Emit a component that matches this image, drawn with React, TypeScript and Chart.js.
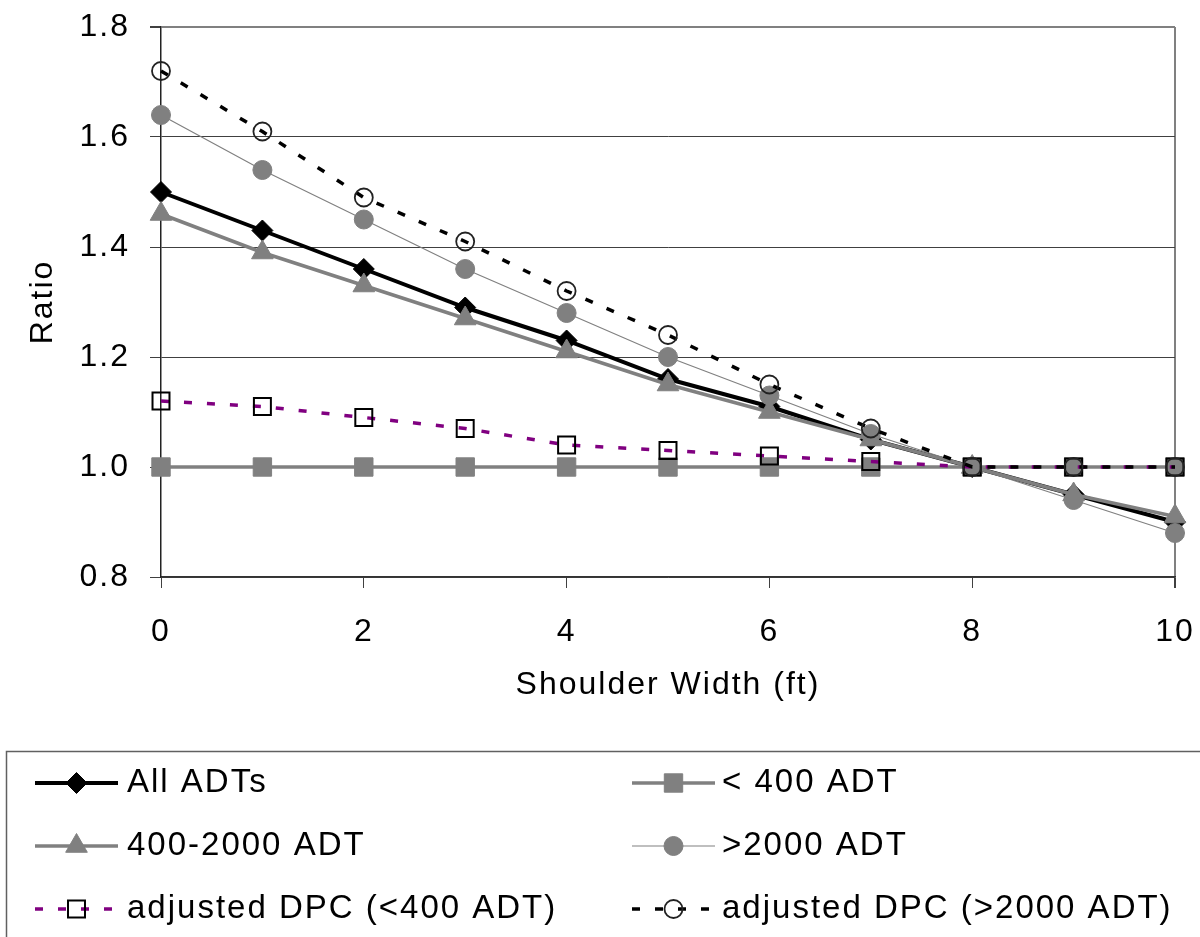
import React, { useEffect, useRef } from 'react';
import { Chart, registerables } from 'chart.js';

Chart.register(...registerables);

// ---- data ----
const shoulderWidth = [0, 1, 2, 3, 4, 5, 6, 7, 8, 9, 10];
const allADTs = [1.5, 1.43, 1.36, 1.29, 1.23, 1.16, 1.11, 1.05, 1.0, 0.95, 0.9];
const below400 = [1.0, 1.0, 1.0, 1.0, 1.0, 1.0, 1.0, 1.0, 1.0, 1.0, 1.0];
const adt400to2000 = [1.46, 1.39, 1.33, 1.27, 1.21, 1.15, 1.1, 1.05, 1.0, 0.95, 0.91];
const above2000 = [1.64, 1.54, 1.45, 1.36, 1.28, 1.2, 1.13, 1.06, 1.0, 0.94, 0.88];
const adjBelow400 = [1.12, 1.11, 1.09, 1.07, 1.04, 1.03, 1.02, 1.01, 1.0, 1.0, 1.0];
const adjAbove2000 = [1.72, 1.61, 1.49, 1.41, 1.32, 1.24, 1.15, 1.07, 1.0, 1.0, 1.0];

const seriesLabels = [
  'All ADTs',
  '< 400 ADT',
  '400-2000 ADT',
  '>2000 ADT',
  'adjusted DPC (<400 ADT)',
  'adjusted DPC (>2000 ADT)',
];
const seriesValues = [allADTs, below400, adt400to2000, above2000, adjBelow400, adjAbove2000];

const xTitle = 'Shoulder Width (ft)';
const yTitle = 'Ratio';

// ---- styles ----
const FONT = '"Liberation Sans", Arial, Helvetica, sans-serif';
const DASH = [8, 15];

type Style = {
  color: string;
  width: number;
  dash: number[];
  pointStyle: 'rectRot' | 'rect' | 'triangle' | 'circle';
  radius: number;
  fill: string;
  stroke: string;
  strokeWidth: number;
};

const styles: Style[] = [
  { color: '#000000', width: 4, dash: [], pointStyle: 'rectRot', radius: 10.5, fill: '#000000', stroke: '#000000', strokeWidth: 1 },
  { color: '#808080', width: 3.5, dash: [], pointStyle: 'rect', radius: 13, fill: '#808080', stroke: '#808080', strokeWidth: 1 },
  { color: '#808080', width: 3.5, dash: [], pointStyle: 'triangle', radius: 12.5, fill: '#808080', stroke: '#808080', strokeWidth: 1 },
  { color: '#808080', width: 1.2, dash: [], pointStyle: 'circle', radius: 9.5, fill: '#808080', stroke: '#808080', strokeWidth: 1 },
  { color: '#800080', width: 3.5, dash: DASH, pointStyle: 'rect', radius: 12, fill: 'rgba(0,0,0,0)', stroke: '#000000', strokeWidth: 2 },
  { color: '#000000', width: 3.5, dash: DASH, pointStyle: 'circle', radius: 9, fill: 'rgba(0,0,0,0)', stroke: '#222222', strokeWidth: 1.8 },
];

function drawMarker(ctx: CanvasRenderingContext2D, s: Style, x: number, y: number) {
  const r = s.radius;
  ctx.save();
  ctx.setLineDash([]);
  ctx.beginPath();
  if (s.pointStyle === 'circle') {
    ctx.arc(x, y, r, 0, Math.PI * 2);
  } else if (s.pointStyle === 'rect') {
    const h = r * Math.SQRT1_2;
    ctx.rect(x - h, y - h, 2 * h, 2 * h);
  } else if (s.pointStyle === 'rectRot') {
    ctx.moveTo(x - r, y);
    ctx.lineTo(x, y - r);
    ctx.lineTo(x + r, y);
    ctx.lineTo(x, y + r);
    ctx.closePath();
  } else {
    let a = 0;
    ctx.moveTo(x + Math.sin(a) * r, y - Math.cos(a) * r);
    a += (2 * Math.PI) / 3;
    ctx.lineTo(x + Math.sin(a) * r, y - Math.cos(a) * r);
    a += (2 * Math.PI) / 3;
    ctx.lineTo(x + Math.sin(a) * r, y - Math.cos(a) * r);
    ctx.closePath();
  }
  ctx.fillStyle = s.fill;
  ctx.fill();
  ctx.lineWidth = s.strokeWidth;
  ctx.strokeStyle = s.stroke;
  ctx.stroke();
  ctx.restore();
}

const spacingPlugin = {
  id: 'letterSpacing',
  beforeDraw(chart: any) {
    (chart.ctx as any).letterSpacing = '2px';
  },
};

const legendPlugin = {
  id: 'customLegend',
  afterDraw(chart: any) {
    const ctx: CanvasRenderingContext2D = chart.ctx;
    ctx.save();
    (ctx as any).letterSpacing = '2px';
    // box
    ctx.strokeStyle = '#606060';
    ctx.lineWidth = 1.5;
    ctx.setLineDash([]);
    ctx.strokeRect(6.5, 751.5, 1300, 300);

    const colLineStart = [35, 632];
    const colLineEnd = [118, 715];
    const colText = [127, 722];
    const rowY = [783, 846, 909];

    seriesLabels.forEach((label, i) => {
      const s = styles[i];
      const col = i % 2;
      const row = Math.floor(i / 2);
      const y = rowY[row];
      ctx.save();
      ctx.beginPath();
      ctx.setLineDash(s.dash);
      ctx.lineDashOffset = 0;
      ctx.strokeStyle = s.color;
      ctx.lineWidth = s.width;
      ctx.lineCap = 'butt';
      ctx.moveTo(colLineStart[col], y);
      ctx.lineTo(colLineEnd[col], y);
      ctx.stroke();
      ctx.restore();
      drawMarker(ctx, s, (colLineStart[col] + colLineEnd[col]) / 2, y);
      ctx.fillStyle = '#000';
      ctx.font = `33px ${FONT}`;
      ctx.textAlign = 'left';
      ctx.textBaseline = 'middle';
      ctx.fillText(label, colText[col], y);
    });
    ctx.restore();
  },
};

function zeroPadding(s: any) {
  s.paddingTop = 0;
  s.paddingBottom = 0;
  s.paddingLeft = 0;
  s.paddingRight = 0;
}

export default function App() {
  const ref = useRef<HTMLCanvasElement | null>(null);

  useEffect(() => {
    const canvas = ref.current;
    if (!canvas) return;

    const datasets = seriesLabels.map((label, i) => {
      const s = styles[i];
      return {
        label,
        data: shoulderWidth.map((x, j) => ({ x, y: seriesValues[i][j] })),
        borderColor: s.color,
        borderWidth: s.width,
        borderDash: s.dash,
        pointStyle: s.pointStyle,
        pointRadius: s.radius,
        pointBackgroundColor: s.fill,
        pointBorderColor: s.stroke,
        pointBorderWidth: s.strokeWidth,
        tension: 0,
        fill: false,
        clip: false as any,
        order: seriesLabels.length - i,
      };
    });

    const tickFont = { family: FONT, size: 32 };

    const chart = new Chart(canvas, {
      type: 'line',
      data: { datasets: datasets as any },
      plugins: [spacingPlugin, legendPlugin],
      options: {
        responsive: false,
        animation: false,
        events: [],
        layout: { padding: { left: 0, top: 27, right: 25, bottom: 230 } },
        plugins: {
          legend: { display: false },
          tooltip: { enabled: false },
        },
        scales: {
          x: {
            type: 'linear',
            min: 0,
            max: 10,
            ticks: {
              stepSize: 2,
              font: tickFont,
              color: '#000',
              padding: 25,
              maxRotation: 0,
              callback: (v: any) => String(v),
            },
            grid: {
              color: (c: any) => (c.tick && c.tick.value === 10 ? '#808080' : 'rgba(0,0,0,0)'),
              lineWidth: (c: any) => (c.tick && c.tick.value === 10 ? 2 : 1),
              tickLength: 11,
              tickColor: '#404040',
              drawTicks: true,
            },
            border: { display: true, color: '#333333', width: 1.5 },
            title: {
              display: true,
              text: xTitle,
              font: { family: FONT, size: 32 },
              color: '#000',
              padding: { top: 0, bottom: 3 },
            },
            afterFit: (s: any) => {
              s.height = 130;
              zeroPadding(s);
            },
          },
          y: {
            type: 'linear',
            min: 0.8,
            max: 1.8,
            ticks: {
              stepSize: 0.2,
              font: tickFont,
              color: '#000',
              padding: 20,
              callback: (v: any) => Number(v).toFixed(1),
            },
            grid: {
              color: (c: any) => (c.tick && Math.abs(c.tick.value - 1.8) < 1e-6 ? '#808080' : '#404040'),
              lineWidth: (c: any) => (c.tick && Math.abs(c.tick.value - 1.8) < 1e-6 ? 2 : 1),
              tickLength: 11,
              tickColor: '#404040',
              drawTicks: true,
            },
            border: { display: true, color: '#222222', width: 1.5 },
            title: {
              display: true,
              text: yTitle,
              font: { family: FONT, size: 32 },
              color: '#000',
              padding: { top: 24, bottom: 0 },
            },
            afterFit: (s: any) => {
              s.width = 161;
              zeroPadding(s);
            },
          },
        },
      } as any,
    });

    return () => chart.destroy();
  }, []);

  return (
    <div style={{ position: 'absolute', left: 0, top: 0, width: 1200, height: 937, background: '#ffffff', overflow: 'hidden' }}>
      <canvas ref={ref} width={1200} height={937} style={{ display: 'block', width: 1200, height: 937 }} />
    </div>
  );
}
